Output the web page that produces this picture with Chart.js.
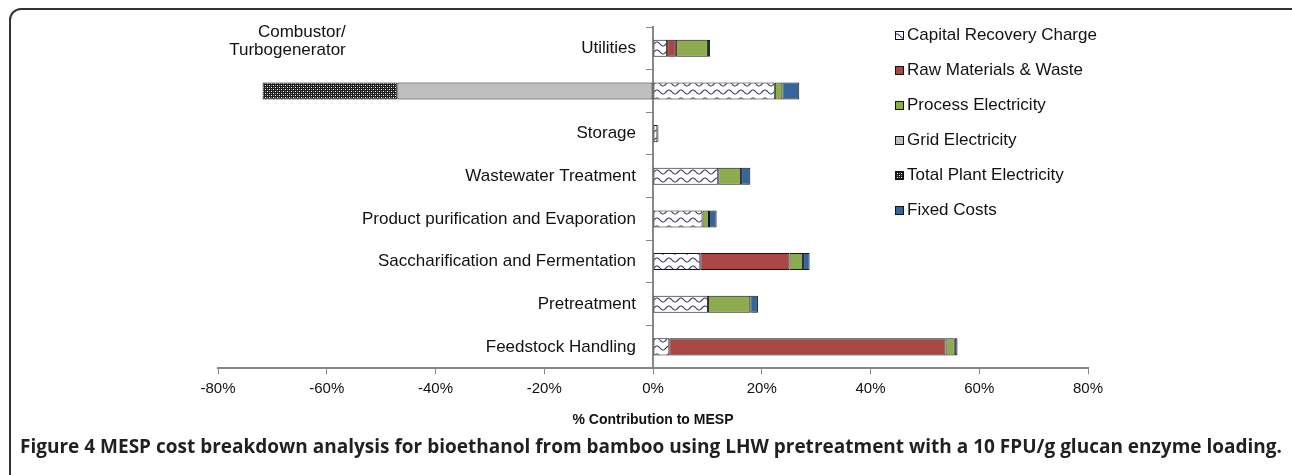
<!DOCTYPE html>
<html>
<head>
<meta charset="utf-8">
<script src="https://cdn.jsdelivr.net/npm/chart.js@4"></script>
<style>
  html, body { margin: 0; padding: 0; background: #fff; overflow: hidden; }
  #wrap { position: relative; width: 1292px; height: 475px; }
  #frame { position: absolute; left: 9px; top: 8px; width: 1320px; height: 540px;
           border: 2px solid #333; border-radius: 12px; box-sizing: border-box; }
  #chartBox { position: absolute; left: 0; top: 0; width: 1292px; height: 434px; }
  #caption { position: absolute; left: 20px; top: 433px; color: #231f20; white-space: nowrap;
             font: bold 19px "Open Sans", sans-serif; }
</style>
</head>
<body>
<div id="wrap">
  <div id="frame"></div>
  <div id="chartBox"><canvas id="myChart"></canvas></div>
  <div id="caption">Figure 4 MESP cost breakdown analysis for bioethanol from bamboo using LHW pretreatment with a 10 FPU/g glucan enzyme loading.</div>
</div>
<script>
// categories, top to bottom
const categories = [
  "Utilities",
  "Combustor/Turbogenerator",
  "Storage",
  "Wastewater Treatment",
  "Product purification and Evaporation",
  "Saccharification and Fermentation",
  "Pretreatment",
  "Feedstock Handling",
];

// % contribution to MESP
const capitalRecovery = [2.6, 22.4, 0.8, 12.0, 9.1, 8.7, 10.1, 3.0];
const rawMaterials = [1.6, null, null, null, null, 16.4, null, 50.8];
const processElectricity = [5.9, 1.4, null, 4.2, 1.2, 2.5, 7.8, 1.7];
const gridElectricity = [null, -47.0, null, null, null, null, null, null];
const totalPlantElectricity = [null, -24.8, null, null, null, null, null, null];
const fixedCosts = [0.4, 3.1, 0.2, 1.7, 1.4, 1.2, 1.4, 0.5];

const seriesNames = [
  "Capital Recovery Charge",
  "Raw Materials & Waste",
  "Process Electricity",
  "Grid Electricity",
  "Total Plant Electricity",
  "Fixed Costs",
];
const xTicks = [-80, -60, -40, -20, 0, 20, 40, 60, 80];

const FONT = "'Liberation Sans', Arial, sans-serif";

// excel-like fill patterns
function wavePattern() {
  const c = document.createElement("canvas");
  c.width = 12; c.height = 8;
  const g = c.getContext("2d");
  g.fillStyle = "#fff";
  g.fillRect(0, 0, 12, 8);
  g.strokeStyle = "#3e3868";
  g.lineWidth = 1.1;
  g.beginPath();
  for (let x = 0; x <= 12; x += 0.5) {
    const y = 4 + 2 * Math.sin((x / 12) * Math.PI * 2);
    if (x === 0) g.moveTo(x, y); else g.lineTo(x, y);
  }
  g.stroke();
  return g.createPattern(c, "repeat");
}

function checkPattern() {
  const c = document.createElement("canvas");
  c.width = 4; c.height = 4;
  const g = c.getContext("2d");
  g.fillStyle = "#1c1c1c";
  g.fillRect(0, 0, 4, 4);
  g.fillStyle = "#ffffff";
  g.fillRect(1, 1, 1, 1);
  g.fillRect(3, 3, 1, 1);
  g.fillStyle = "#8a8a8a";
  g.fillRect(3, 1, 1, 1);
  g.fillRect(1, 3, 1, 1);
  return g.createPattern(c, "repeat");
}

const fills = [wavePattern(), "#a94744", "#8dab4f", "#bfbfbf", checkPattern(), "#35659b"];
const seriesValues = [capitalRecovery, rawMaterials, processElectricity, gridElectricity, totalPlantElectricity, fixedCosts];

// legend drawn over the plot (as in the original)
const sideLegend = {
  id: "sideLegend",
  afterDraw(chart) {
    const ctx = chart.ctx;
    ctx.save();
    ctx.font = "17px " + FONT;
    ctx.textBaseline = "middle";
    chart.data.datasets.forEach((ds, i) => {
      const y = 35 + i * 35;
      ctx.fillStyle = ds.backgroundColor;
      ctx.fillRect(895, y - 4, 9, 9);
      ctx.strokeStyle = "#111";
      ctx.lineWidth = 1;
      ctx.strokeRect(895.5, y - 3.5, 8, 8);
      ctx.fillStyle = "#111";
      ctx.fillText(ds.label, 907, y);
    });
    ctx.restore();
  },
};

// the combustor label sits up and to the left of its bar
const combustorLabel = {
  id: "combustorLabel",
  afterDraw(chart) {
    const ctx = chart.ctx;
    const x = chart.scales.x.getPixelForValue(-56.5);
    const y = chart.scales.y.getPixelForValue(0);
    ctx.save();
    ctx.font = "17px " + FONT;
    ctx.fillStyle = "#111";
    ctx.textAlign = "right";
    ctx.textBaseline = "middle";
    ctx.fillText("Combustor/", x, y - 16);
    ctx.fillText("Turbogenerator", x, y + 2);
    ctx.restore();
  },
};

const ctx = document.getElementById("myChart").getContext("2d");
new Chart(ctx, {
  type: "bar",
  data: {
    labels: categories,
    datasets: seriesNames.map((name, i) => ({
      label: name,
      data: seriesValues[i],
      backgroundColor: fills[i],
      borderColor: "#151515",
      borderWidth: 1,
      borderSkipped: false,
      barPercentage: 0.4,
      categoryPercentage: 1,
    })),
  },
  options: {
    indexAxis: "y",
    responsive: true,
    maintainAspectRatio: false,
    animation: false,
    layout: { padding: { left: 218, right: 204, top: 27, bottom: 1 } },
    plugins: { legend: { display: false }, tooltip: { enabled: false } },
    scales: {
      x: {
        stacked: true,
        min: -80,
        max: 80,
        afterBuildTicks: (axis) => { axis.ticks = xTicks.map((v) => ({ value: v })); },
        ticks: {
          callback: (v) => v + "%",
          color: "#111",
          font: { family: FONT, size: 15 },
          padding: 6,
          maxRotation: 0,
        },
        grid: { drawOnChartArea: false, drawTicks: true, tickLength: 6, color: "#888" },
        border: { color: "#888", width: 2 },
        title: {
          display: true,
          text: "% Contribution to MESP",
          color: "#111",
          font: { family: FONT, size: 14, weight: "bold" },
          padding: { top: 8, bottom: 4 },
        },
      },
      y: {
        stacked: true,
        position: { x: 0 },
        ticks: {
          autoSkip: false,
          color: "#111",
          font: { family: FONT, size: 17 },
          // labels sit on the zero line, so pad them away from the axis
          callback: function (v, i) { return i === 1 ? "" : this.getLabelForValue(v) + "\u2002\u2002"; },
        },
        grid: { drawOnChartArea: false, drawTicks: true, tickLength: 6, color: "#888", offset: true },
        border: { color: "#888", width: 2 },
      },
    },
  },
  plugins: [sideLegend, combustorLabel],
});

// fit the caption to the figure width
const cap = document.getElementById("caption");
const capW = cap.getBoundingClientRect().width;
cap.style.letterSpacing = ((1262 - capW) / cap.textContent.length) + "px";
</script>
</body>
</html>
